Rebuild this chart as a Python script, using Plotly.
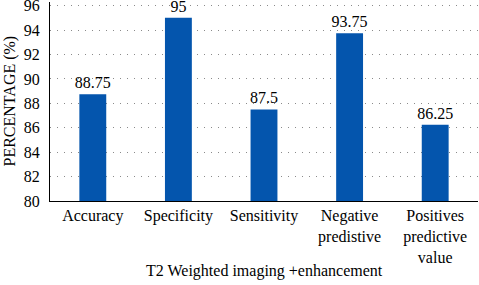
import plotly.graph_objects as go

categories = ["Accuracy", "Specificity", "Sensitivity", "Negative<br>predistive", "Positives<br>predictive<br>value"]
values = [88.75, 95, 87.5, 93.75, 86.25]
value_labels = ["88.75", "95", "87.5", "93.75", "86.25"]
y_ticks = [80, 82, 84, 86, 88, 90, 92, 94, 96]

font_family = "Liberation Serif"
fs = 16

fig = go.Figure(go.Bar(
    x=categories, y=values, text=value_labels, textposition="outside",
    constraintext="none",
    marker=dict(color="#0455AD", line=dict(width=0)),
    textfont=dict(family=font_family, size=fs, color="black"),
    cliponaxis=False,
))

fig.update_layout(
    width=479, height=285,
    margin=dict(l=50, r=1, t=2, b=84, autoexpand=False),
    plot_bgcolor="white", paper_bgcolor="white",
    bargap=0.686,
    showlegend=False,
    font=dict(family=font_family, size=fs, color="black"),
    xaxis=dict(
        showline=True, linecolor="black", linewidth=1, automargin=False,
        ticks="", tickfont=dict(family=font_family, size=fs, color="black"),
    ),
    yaxis=dict(
        range=[80, 96.3], tickvals=y_ticks, automargin=False,
        showline=True, linecolor="black", linewidth=1,
        showgrid=True, gridcolor="#8a8a8a", griddash="1px,6px", gridwidth=1,
        ticks="", tickfont=dict(family=font_family, size=fs, color="black"),
        ticklabelstandoff=6, ticklabeloverflow="allow",
        zeroline=False,
    ),
    annotations=[
        dict(text="T2 Weighted imaging +enhancement", xref="paper", yref="paper",
             x=0.5, y=0, yshift=-70, xanchor="center", yanchor="middle", showarrow=False,
             font=dict(family=font_family, size=fs)),
        dict(text="PERCENTAGE (%)", xref="paper", yref="paper", textangle=-90,
             x=0, xshift=-41, y=0.5, xanchor="center", yanchor="middle", showarrow=False,
             font=dict(family=font_family, size=fs)),
    ],
)

fig.write_html("out.html", config={"displayModeBar": False},
               post_script="document.body.style.margin='0';")
